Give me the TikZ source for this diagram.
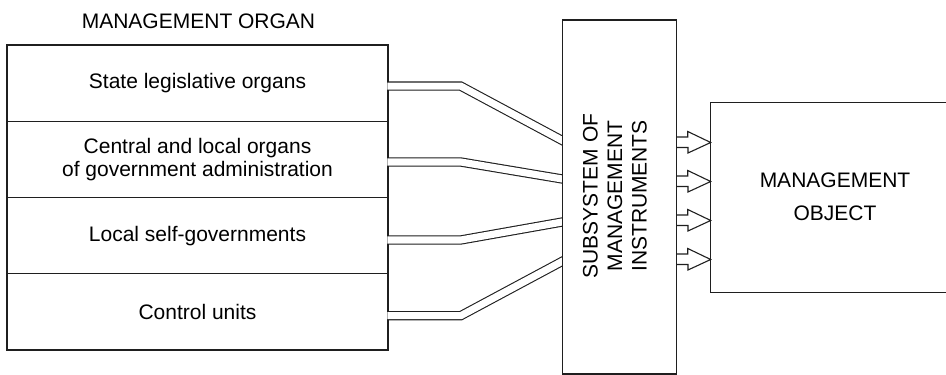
\documentclass[tikz,border=0pt]{standalone}
\usepackage{fontspec}
\setmainfont{Liberation Sans}
\begin{document}
\begin{tikzpicture}[x=1pt,y=1pt,
  every node/.style={font=\fontsize{21}{24.5}\selectfont, text=black},
  rowbox/.style={draw=black!88, line width=1.1pt, minimum width=381pt,
    minimum height=76.25pt, inner sep=0pt, outer sep=0pt},
  bigbox/.style={draw=black!88, line width=1.1pt, fill=white,
    inner sep=0pt, outer sep=0pt},
  channel/.style={draw=black!88, line width=1.1pt, double=white,
    double distance=7.1pt, line join=miter, shorten >=-6pt},
  hollowarrow/.style={draw=black!88, line width=1.1pt, line join=miter}]
\useasboundingbox (0,0) rectangle (946,375);

% title of the left column
\node (organ) at (198.5,354) {MANAGEMENT ORGAN};

% the four management organs
\node[rowbox] (r1) at (197.5,291.9) {State legislative organs};
\node[rowbox, align=center, font=\fontsize{21}{23}\selectfont] (r2) at (197.5,215.6)
  {Central and local organs\\of government administration};
\node[rowbox] (r3) at (197.5,139.4) {Local self-governments};
\node[rowbox] (r4) at (197.5,63.1) {Control units};

% subsystem of instruments (position used by the channels)
\coordinate (midw) at (562.25,178);

% double-line channels from each organ into the subsystem
\draw[channel] ([xshift=-0.55pt,yshift=-3pt]r1.east) -- ++(73.3,0)
  -- ([yshift=56.5pt]midw);
\draw[channel] ([xshift=-0.55pt,yshift=-2.6pt]r2.east) -- ++(73.3,0)
  -- ([yshift=18pt]midw);
\draw[channel] ([xshift=-0.55pt,yshift=-4.4pt]r3.east) -- ++(73.3,0)
  -- ([yshift=-25pt]midw);
\draw[channel] ([xshift=-0.55pt,yshift=-3.8pt]r4.east) -- ++(73.3,0)
  -- ([yshift=-64.3pt]midw);

\node[bigbox, minimum width=114.5pt, minimum height=354pt] (mid) at (619.5,178) {};
\node[rotate=90, align=center] (midtext) at (615,179)
  {SUBSYSTEM OF\\MANAGEMENT\\INSTRUMENTS};

% management object
\node[bigbox, minimum width=235.5pt, minimum height=189.6pt] (obj) at (828.45,177.5) {};
\node[align=center, font=\fontsize{21}{33}\selectfont] (objtext) at (835,178.5)
  {MANAGEMENT\\OBJECT};

% hollow block arrows from the subsystem to the object
\foreach \dy in {55,16,-23,-62}{
  \draw[hollowarrow] ([yshift=\dy pt]mid.east) ++(0,5) -- ++(11,0) -- ++(0,5.5)
    -- ([yshift=\dy pt]obj.west) -- ++(-22.7,-10.5) -- ++(0,5.5) -- ++(-11,0);
}
\end{tikzpicture}
\end{document}
